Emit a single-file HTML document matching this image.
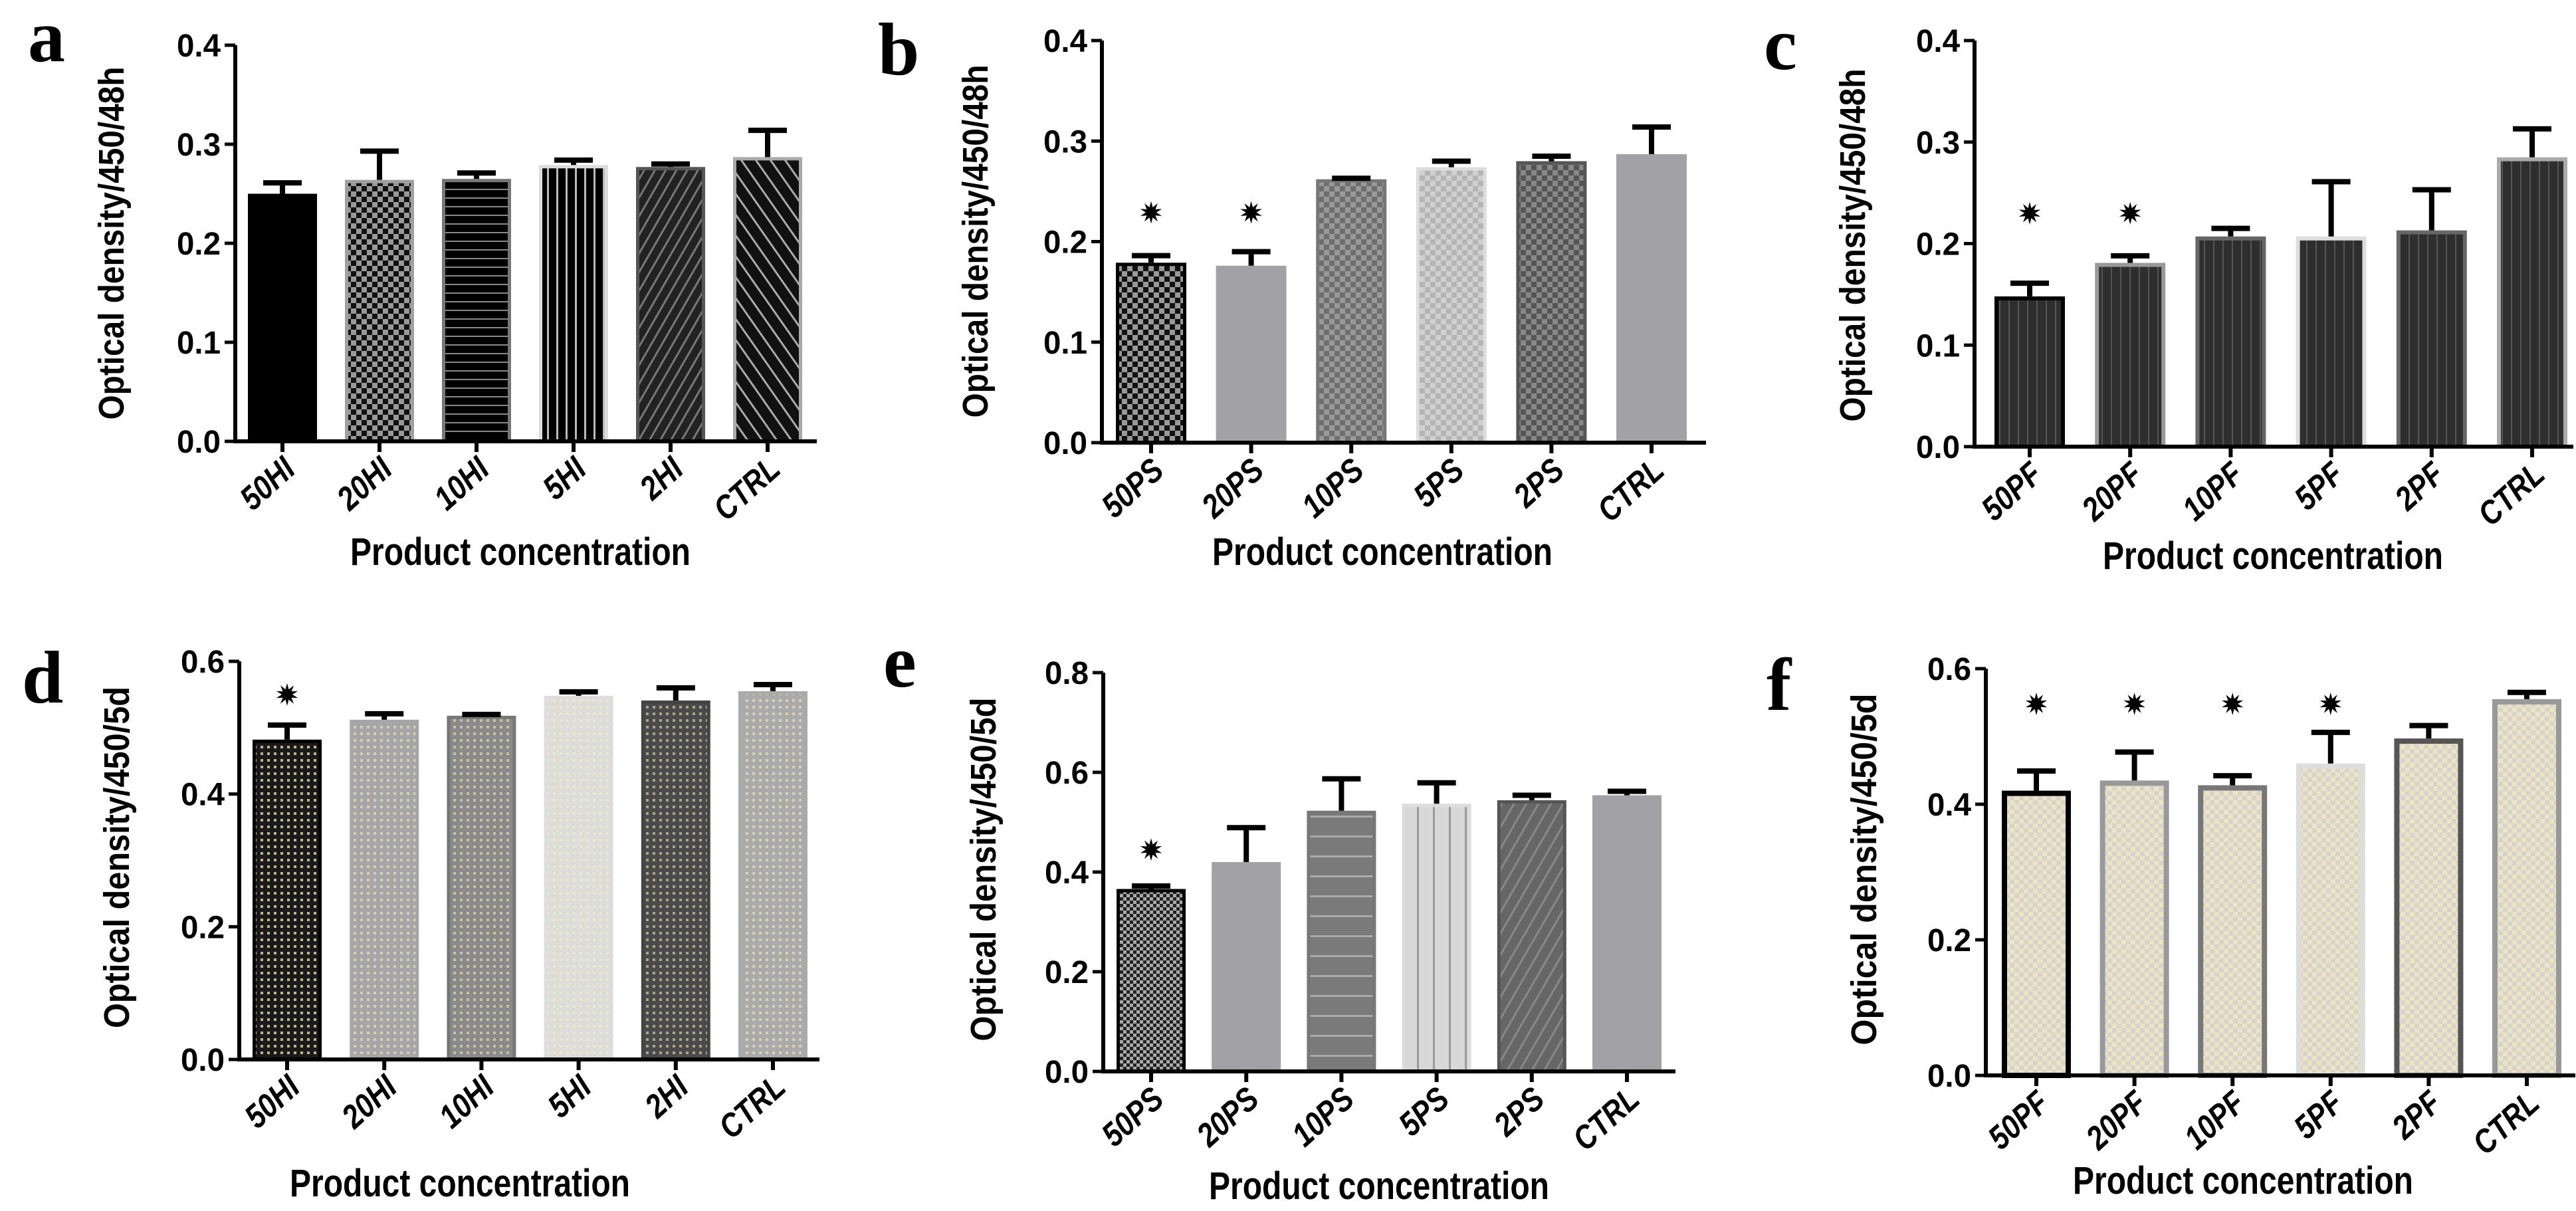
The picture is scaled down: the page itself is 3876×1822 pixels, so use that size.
<!DOCTYPE html>
<html><head><meta charset="utf-8"><style>
html,body{margin:0;padding:0;background:#fff;}
svg{display:block;}
text{font-family:"Liberation Sans",sans-serif;}
</style></head><body>
<svg id="fig" width="3876" height="1822" viewBox="0 0 3876 1822" xmlns="http://www.w3.org/2000/svg">
<defs>
<pattern id="chkBG" width="16" height="16" patternUnits="userSpaceOnUse"><rect width="16" height="16" fill="#111"/><rect width="8" height="8" fill="#999"/><rect x="8" y="8" width="8" height="8" fill="#999"/></pattern>
<pattern id="chkFine" width="10" height="10" patternUnits="userSpaceOnUse"><rect width="10" height="10" fill="#222"/><rect width="5" height="5" fill="#aaa"/><rect x="5" y="5" width="5" height="5" fill="#aaa"/></pattern>
<pattern id="chkMid" width="16" height="16" patternUnits="userSpaceOnUse"><rect width="16" height="16" fill="#6e6e6e"/><rect width="8" height="8" fill="#999"/><rect x="8" y="8" width="8" height="8" fill="#999"/></pattern>
<pattern id="chkLight" width="16" height="16" patternUnits="userSpaceOnUse"><rect width="16" height="16" fill="#d0d0d0"/><rect width="8" height="8" fill="#b4b4b4"/><rect x="8" y="8" width="8" height="8" fill="#b4b4b4"/></pattern>
<pattern id="chkDark" width="16" height="16" patternUnits="userSpaceOnUse"><rect width="16" height="16" fill="#555"/><rect width="8" height="8" fill="#888"/><rect x="8" y="8" width="8" height="8" fill="#888"/></pattern>
<pattern id="chkCream" width="14" height="14" patternUnits="userSpaceOnUse"><rect width="14" height="14" fill="#d6d4cc"/><rect width="7" height="7" fill="#ede4c4"/><rect x="7" y="7" width="7" height="7" fill="#ede4c4"/></pattern>
<pattern id="hLinesBlk" width="10" height="13" patternUnits="userSpaceOnUse"><rect width="10" height="13" fill="#000"/><rect y="11" width="10" height="2" fill="#888"/></pattern>
<pattern id="vLinesBlk" width="14" height="10" patternUnits="userSpaceOnUse"><rect width="14" height="10" fill="#000"/><rect x="11" width="3" height="10" fill="#bbb"/></pattern>
<pattern id="vLinesDark" width="14" height="10" patternUnits="userSpaceOnUse"><rect width="14" height="10" fill="#2e2e2e"/><rect x="12" width="2" height="10" fill="#555"/></pattern>
<pattern id="diagR" width="14" height="14" patternUnits="userSpaceOnUse" patternTransform="rotate(30)"><rect width="14" height="14" fill="#222"/><rect width="3" height="14" fill="#777"/></pattern>
<pattern id="diagL" width="18" height="18" patternUnits="userSpaceOnUse" patternTransform="rotate(-35)"><rect width="18" height="18" fill="#111"/><rect width="3" height="18" fill="#aaa"/></pattern>
<pattern id="diagGray" width="16" height="16" patternUnits="userSpaceOnUse" patternTransform="rotate(30)"><rect width="16" height="16" fill="#666"/><rect width="3" height="16" fill="#888"/></pattern>
<pattern id="hLinesGray" width="10" height="30" patternUnits="userSpaceOnUse"><rect width="10" height="30" fill="#7a7a7a"/><rect y="27" width="10" height="3" fill="#aaa"/></pattern>
<pattern id="vLinesLight" width="24" height="10" patternUnits="userSpaceOnUse"><rect width="24" height="10" fill="#d8d8d8"/><rect x="20" width="3" height="10" fill="#999"/></pattern>
<pattern id="dotBlk" width="10" height="10" patternUnits="userSpaceOnUse"><rect width="10" height="10" fill="#1a1a1a"/><rect x="2" y="2" width="4" height="4" fill="#bdb68c"/></pattern>
<pattern id="dotG1" width="10" height="10" patternUnits="userSpaceOnUse"><rect width="10" height="10" fill="#a6a6a8"/><rect x="2" y="2" width="4" height="4" fill="#d6d0b0"/></pattern>
<pattern id="dotG2" width="10" height="10" patternUnits="userSpaceOnUse"><rect width="10" height="10" fill="#8a8a8a"/><rect x="2" y="2" width="4" height="4" fill="#c8c2a0"/></pattern>
<pattern id="dotG3" width="10" height="10" patternUnits="userSpaceOnUse"><rect width="10" height="10" fill="#dcdcd8"/><rect x="2" y="2" width="4" height="4" fill="#ece6cc"/></pattern>
<pattern id="dotG4" width="10" height="10" patternUnits="userSpaceOnUse"><rect width="10" height="10" fill="#4a4a4a"/><rect x="2" y="2" width="4" height="4" fill="#aaa488"/></pattern>
<pattern id="dotG5" width="10" height="10" patternUnits="userSpaceOnUse"><rect width="10" height="10" fill="#aaaaaa"/><rect x="2" y="2" width="4" height="4" fill="#d8d2b4"/></pattern>
</defs>
</svg>
<script>
// ---- data ----
const catsA = ["50HI","20HI","10HI","5HI","2HI","CTRL"];
const valsA = [0.250,0.264,0.265,0.279,0.277,0.287];
const errA  = [0.261,0.293,0.271,0.284,0.280,0.314];
const starA = [0,0,0,0,0,0];
const ticksA = ["0.0","0.1","0.2","0.3","0.4"];

const catsB = ["50PS","20PS","10PS","5PS","2PS","CTRL"];
const valsB = [0.179,0.176,0.262,0.274,0.280,0.287];
const errB  = [0.186,0.190,0.263,0.280,0.285,0.314];
const starB = [1,1,0,0,0,0];
const ticksB = ["0.0","0.1","0.2","0.3","0.4"];

const catsC = ["50PF","20PF","10PF","5PF","2PF","CTRL"];
const valsC = [0.148,0.181,0.207,0.207,0.213,0.285];
const errC  = [0.161,0.188,0.215,0.261,0.253,0.313];
const starC = [1,1,0,0,0,0];
const ticksC = ["0.0","0.1","0.2","0.3","0.4"];

const catsD = ["50HI","20HI","10HI","5HI","2HI","CTRL"];
const valsD = [0.482,0.512,0.518,0.548,0.541,0.555];
const errD  = [0.504,0.521,0.520,0.554,0.560,0.565];
const starD = [1,0,0,0,0,0];
const ticksD = ["0.0","0.2","0.4","0.6"];

const catsE = ["50PS","20PS","10PS","5PS","2PS","CTRL"];
const valsE = [0.366,0.420,0.523,0.537,0.544,0.554];
const errE  = [0.372,0.489,0.587,0.579,0.554,0.562];
const starE = [1,0,0,0,0,0];
const ticksE = ["0.0","0.2","0.4","0.6","0.8"];

const catsF = ["50PF","20PF","10PF","5PF","2PF","CTRL"];
const valsF = [0.420,0.435,0.428,0.460,0.497,0.555];
const errF  = [0.449,0.477,0.442,0.506,0.516,0.565];
const starF = [1,1,1,1,0,0];
const ticksF = ["0.0","0.2","0.4","0.6"];

// ---- layout (geometry only) ----
const panels = [
 {id:"a",cats:catsA,vals:valsA,errs:errA,stars:starA,ticks:ticksA,ymax:0.4,starV:0,
  ax:354,y0:664,y1:68,xEnd:1229,x0:425,step:146,bw:104,title:"Optical density/450/48h",
  tx:167,ty:366,tlen:531,xtx:783,xty:846,lx:42,ly:92,
  fills:["#000","url(#chkBG)","url(#hLinesBlk)","url(#vLinesBlk)","url(#diagR)","url(#diagL)"],
  strokes:["#000","#a0a0a0","#777","#ddd","#555","#aaa"],sw:5},
 {id:"b",cats:catsB,vals:valsB,errs:errB,stars:starB,ticks:ticksB,ymax:0.4,starV:0.229,
  ax:1658,y0:666,y1:61,xEnd:2567,x0:1732,step:150.6,bw:106,title:"Optical density/450/48h",
  tx:1467,ty:363,tlen:531,xtx:2080,xty:846,lx:1321,ly:112,
  fills:["url(#chkBG)","#a2a2a6","url(#chkMid)","url(#chkLight)","url(#chkDark)","#a2a2a6"],
  strokes:["#000","#a2a2a6","#777","#ddd","#555","#a2a2a6"],sw:5},
 {id:"c",cats:catsC,vals:valsC,errs:errC,stars:starC,ticks:ticksC,ymax:0.4,starV:0.230,
  ax:2971,y0:672,y1:61,xEnd:3872,x0:3054,step:151.2,bw:106,title:"Optical density/450/48h",
  tx:2787,ty:369,tlen:531,xtx:3420,xty:852,lx:2654,ly:104,
  fills:["url(#vLinesDark)","url(#vLinesDark)","url(#vLinesDark)","url(#vLinesDark)","url(#vLinesDark)","url(#vLinesDark)"],
  strokes:["#000","#999","#666","#ddd","#666","#aaa"],sw:6},
 {id:"d",cats:catsD,vals:valsD,errs:errD,stars:starD,ticks:ticksD,ymax:0.6,starV:0.55,
  ax:360,y0:1594,y1:995,xEnd:1233,x0:432,step:146.2,bw:104,title:"Optical density/450/5d",
  tx:175,ty:1290,tlen:514,xtx:692,xty:1796,lx:33,ly:1057,
  fills:["url(#dotBlk)","url(#dotG1)","url(#dotG2)","url(#dotG3)","url(#dotG4)","url(#dotG5)"],
  strokes:["#000","#a6a6a8","#777","#ddd","#444","#aaa"],sw:5},
 {id:"e",cats:catsE,vals:valsE,errs:errE,stars:starE,ticks:ticksE,ymax:0.8,starV:0.445,
  ax:1660,y0:1612,y1:1012,xEnd:2521,x0:1732,step:143.2,bw:104,title:"Optical density/450/5d",
  tx:1479,ty:1308,tlen:517,xtx:2075,xty:1800,lx:1329,ly:1033,
  fills:["url(#chkFine)","#a2a2a6","url(#hLinesGray)","url(#vLinesLight)","url(#diagGray)","#a2a2a6"],
  strokes:["#000","#a2a2a6","#777","#ddd","#555","#a2a2a6"],sw:5},
 {id:"f",cats:catsF,vals:valsF,errs:errF,stars:starF,ticks:ticksF,ymax:0.6,starV:0.548,
  ax:2988,y0:1618,y1:1006,xEnd:3875,x0:3064,step:147.6,bw:104,title:"Optical density/450/5d",
  tx:2804,ty:1308,tlen:529,xtx:3375,xty:1792,lx:2658,ly:1068,
  fills:["url(#chkCream)","url(#chkCream)","url(#chkCream)","url(#chkCream)","url(#chkCream)","url(#chkCream)"],
  strokes:["#000","#999","#777","#ddd","#555","#999"],sw:8}
];

const NS="http://www.w3.org/2000/svg";
const svg=document.getElementById("fig");
function mk(tag,attrs,parent){const e=document.createElementNS(NS,tag);for(const k in attrs)e.setAttribute(k,attrs[k]);(parent||svg).appendChild(e);return e;}

function starPath(cx,cy,r1,r2,n){let d="";for(let i=0;i<n*2;i++){const r=i%2?r2:r1;const a=Math.PI*i/n-Math.PI/2;d+=(i?"L":"M")+(cx+r*Math.cos(a)).toFixed(1)+","+(cy+r*Math.sin(a)).toFixed(1);}return d+"Z";}

panels.forEach(p=>{
  const g=mk("g",{});
  
  
  const yS=v=>p.y0-(v/p.ymax)*(p.y0-p.y1);
  const xS=i=>p.x0+i*p.step;
  const L=mk("text",{x:p.lx,y:p.ly,"font-size":112,"font-weight":"bold",style:"font-family:'Liberation Serif',serif"},g);
  L.textContent=p.id;
  
  
  p.vals.forEach((v,i)=>{
    const cx=xS(i), top=yS(v);
    const r=mk("rect",{x:cx-p.bw/2+p.sw/2,y:top+p.sw/2,width:p.bw-p.sw,height:p.y0-top-p.sw/2,fill:p.fills[i],stroke:p.strokes[i],"stroke-width":p.sw},g);
    
    
    const ey=yS(p.errs[i]);
    const e=mk("path",{d:`M${cx},${top}V${ey}M${cx-29},${ey}H${cx+29}`,stroke:"#000","stroke-width":8,fill:"none"},g);
    
    
    if(p.stars[i]){
      const s=mk("path",{d:starPath(cx,yS(p.starV),17,8,10),fill:"#000"},g);
      
      
    }
    mk("line",{x1:cx,y1:p.y0,x2:cx,y2:p.y0+16,stroke:"#000","stroke-width":6},g);
    const t=mk("text",{x:0,y:0,"font-size":50,"font-weight":"bold","font-style":"italic","text-anchor":"end",transform:`translate(${cx+22},${p.y0+46}) rotate(-42) scale(0.85,1)`},g);
    t.textContent=p.cats[i];
    
    
  });
  const ax=mk("path",{d:`M${p.ax},${p.y1}V${p.y0}H${p.xEnd}`,stroke:"#000","stroke-width":6,fill:"none"},g);
  
  
  const n=p.ticks.length-1;
  p.ticks.forEach((lab,k)=>{
    const yy=yS(p.ymax*k/n);
    mk("line",{x1:p.ax-16,y1:yy,x2:p.ax,y2:yy,stroke:"#000","stroke-width":5},g);
    const t=mk("text",{x:p.ax-22,y:yy+17,"font-size":48,"font-weight":"bold","text-anchor":"end",textLength:66,lengthAdjust:"spacingAndGlyphs"},g);
    t.textContent=lab;
    
    
  });
  const yt=mk("text",{x:0,y:0,"font-size":54,"font-weight":"bold","text-anchor":"middle",textLength:p.tlen,lengthAdjust:"spacingAndGlyphs",transform:`translate(${p.tx+19},${p.ty}) rotate(-90)`},g);
  yt.textContent=p.title;
  
  
  const xt=mk("text",{x:p.xtx,y:p.xty+4,"font-size":58,"font-weight":"bold","text-anchor":"middle",textLength:512,lengthAdjust:"spacingAndGlyphs"},g);
  xt.textContent="Product concentration";
  
  
});
</script>
</body></html>
